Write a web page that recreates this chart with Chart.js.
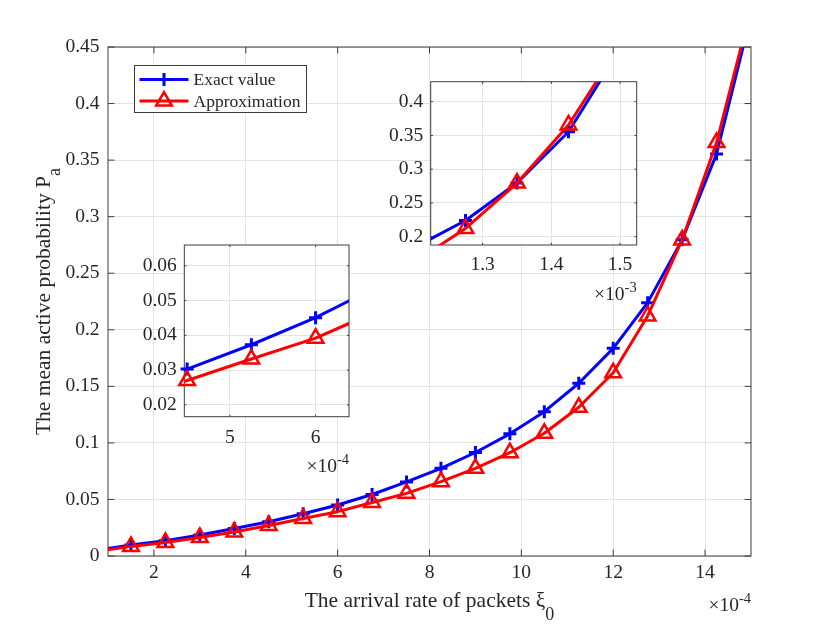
<!DOCTYPE html>
<html>
<head>
<meta charset="utf-8">
<script src="https://cdn.jsdelivr.net/npm/chart.js@4.4.1/dist/chart.umd.min.js"></script>
<style>
  html, body { margin: 0; padding: 0; background: #fff; }
  #wrap { position: relative; width: 830px; height: 624px; }
  canvas { position: absolute; }
</style>
</head>
<body>
<div id="wrap">
  <canvas id="main" width="830" height="624" style="left:0;top:0"></canvas>
  <canvas id="insetLow" width="240" height="260" style="left:130px;top:220px"></canvas>
  <canvas id="insetHigh" width="290" height="260" style="left:370px;top:55px"></canvas>
</div>
<script>
// arrival rate of packets (x 10^-4)
const arrivalRate = [0.75, 1.5, 2.25, 3, 3.75, 4.5, 5.25, 6, 6.75, 7.5, 8.25, 9, 9.75, 10.5, 11.25, 12, 12.75, 13.5, 14.25, 15];
const exactValue = [0.005, 0.0097, 0.0135, 0.0185, 0.0243, 0.0303, 0.0373, 0.0451, 0.0544, 0.0655, 0.0775, 0.0915, 0.108, 0.1276, 0.1527, 0.1836, 0.224, 0.2795, 0.3555, 0.478];
const approximation = [0.004, 0.0085, 0.012, 0.0163, 0.0212, 0.027, 0.0332, 0.0392, 0.0473, 0.0554, 0.0657, 0.0775, 0.0913, 0.1085, 0.1315, 0.162, 0.2122, 0.2794, 0.3655, 0.484];

const mainXTicks = [2, 4, 6, 8, 10, 12, 14];
const mainYTicks = [0, 0.05, 0.1, 0.15, 0.2, 0.25, 0.3, 0.35, 0.4, 0.45];
const lowXTicks = [5, 6];
const lowYTicks = [0.02, 0.03, 0.04, 0.05, 0.06];
const highXTicks = [13, 14, 15]; // shown as 1.3, 1.4, 1.5 (x 10^-3)
const highYTicks = [0.2, 0.25, 0.3, 0.35, 0.4];

const seriesNames = ["Exact value", "Approximation"];

const BLUE = "#0000ff";
const RED = "#ff0000";
const TEXT = "#262626";
const GRID = "#e3e3e3";
const FRAME = "#3c3c3c";
const SERIF = "'Liberation Serif', 'Times New Roman', serif";

function toPoints(ys) {
  return arrivalRate.map((x, i) => ({ x: x, y: ys[i] }));
}

function fmt(v) {
  return String(parseFloat(v.toFixed(3)));
}

// draw a string made of pieces (for sub/superscripts), baseline at y
function drawPieces(ctx, pieces, x, y, align) {
  let total = 0;
  pieces.forEach((p) => {
    ctx.font = p.size + "px " + SERIF;
    p.w = ctx.measureText(p.t).width;
    total += p.w;
  });
  let cx = align === "center" ? x - total / 2 : align === "right" ? x - total : x;
  ctx.textAlign = "left";
  ctx.textBaseline = "alphabetic";
  pieces.forEach((p) => {
    ctx.font = p.size + "px " + SERIF;
    ctx.fillText(p.t, cx, y + (p.dy || 0));
    cx += p.w;
  });
}

function drawMarker(ctx, style, x, y, color) {
  ctx.save();
  ctx.strokeStyle = color;
  ctx.beginPath();
  if (style === "cross") {
    ctx.lineWidth = 3;
    ctx.moveTo(x - 6.5, y); ctx.lineTo(x + 6.5, y);
    ctx.moveTo(x, y - 6.5); ctx.lineTo(x, y + 6.5);
  } else {
    ctx.lineWidth = 2.5;
    const r = 9;
    for (let k = 0; k < 3; k++) {
      const a = k * 2 * Math.PI / 3;
      const px = x + Math.sin(a) * r, py = y - Math.cos(a) * r;
      if (k === 0) ctx.moveTo(px, py); else ctx.lineTo(px, py);
    }
    ctx.closePath();
  }
  ctx.stroke();
  ctx.restore();
}

function makeDatasets(xr, yr) {
  const inside = (c) => {
    const p = c.raw;
    return p && p.x >= xr[0] && p.x <= xr[1] && p.y >= yr[0] && p.y <= yr[1];
  };
  return [
    { label: seriesNames[0], data: toPoints(exactValue), borderColor: BLUE, borderWidth: 3,
      pointRadius: 0, clip: 0, order: 4, borderJoinStyle: "round" },
    { label: seriesNames[0], data: toPoints(exactValue), showLine: false, pointStyle: "cross",
      pointRadius: (c) => (inside(c) ? 6.5 : 0), pointBorderWidth: 3, pointBorderColor: BLUE,
      clip: 14, order: 3 },
    { label: seriesNames[1], data: toPoints(approximation), borderColor: RED, borderWidth: 3,
      pointRadius: 0, clip: 0, order: 2, borderJoinStyle: "round" },
    { label: seriesNames[1], data: toPoints(approximation), showLine: false, pointStyle: "triangle",
      pointRadius: (c) => (inside(c) ? 9 : 0), pointBorderWidth: 2.5, pointBorderColor: RED,
      pointBackgroundColor: "rgba(0,0,0,0)", clip: 14, order: 1 }
  ];
}

function makeAxes(cfg) {
  const font = { family: SERIF, size: 19.5 };
  return {
    x: {
      type: "linear", min: cfg.xr[0], max: cfg.xr[1],
      afterBuildTicks: (s) => { s.ticks = cfg.xTicks.map((v) => ({ value: v })); },
      afterFit: (s) => { s.height = cfg.xHeight; },
      grid: { color: GRID, lineWidth: 1, drawTicks: false },
      border: { display: false },
      ticks: { font: font, color: TEXT, padding: cfg.xPad, maxRotation: 0, autoSkip: false,
        callback: cfg.xLabel || ((v) => fmt(v)) }
    },
    y: {
      type: "linear", min: cfg.yr[0], max: cfg.yr[1],
      afterBuildTicks: (s) => { s.ticks = cfg.yTicks.map((v) => ({ value: v })); },
      afterFit: (s) => { s.width = cfg.yWidth; },
      grid: { color: GRID, lineWidth: 1, drawTicks: false },
      border: { display: false },
      ticks: { font: font, color: TEXT, padding: cfg.yPad, autoSkip: false,
        callback: (v) => fmt(v) }
    }
  };
}

// white plot background, box with inward ticks, power-of-ten note
function axesPlugin(cfg) {
  return {
    id: "matlabAxes",
    beforeDraw(chart) {
      const a = chart.chartArea;
      chart.ctx.save();
      chart.ctx.fillStyle = "#fff";
      chart.ctx.fillRect(a.left, a.top, a.right - a.left, a.bottom - a.top);
      chart.ctx.restore();
    },
    beforeDatasetsDraw(chart) {
      const { ctx, chartArea: a, scales } = chart;
      const tl = cfg.tickLen;
      ctx.save();
      ctx.strokeStyle = FRAME;
      ctx.lineWidth = 1;
      ctx.beginPath();
      scales.x.ticks.forEach((t) => {
        const px = scales.x.getPixelForValue(t.value);
        ctx.moveTo(px, a.bottom); ctx.lineTo(px, a.bottom - tl);
        ctx.moveTo(px, a.top); ctx.lineTo(px, a.top + tl);
      });
      scales.y.ticks.forEach((t) => {
        const py = scales.y.getPixelForValue(t.value);
        ctx.moveTo(a.left, py); ctx.lineTo(a.left + tl, py);
        ctx.moveTo(a.right, py); ctx.lineTo(a.right - tl, py);
      });
      ctx.stroke();
      ctx.strokeRect(a.left, a.top, a.right - a.left, a.bottom - a.top);
      ctx.restore();
    },
    afterDraw(chart) {
      const { ctx, chartArea: a } = chart;
      ctx.save();
      ctx.fillStyle = TEXT;
      drawPieces(ctx, [{ t: "\u00d710", size: 19.5 }, { t: cfg.power, size: 14.5, dy: -8 }],
        a.right, a.bottom + 55, "right");
      ctx.restore();
      if (cfg.extra) cfg.extra(chart);
    }
  };
}

function mainExtras(chart) {
  const { ctx, chartArea: a } = chart;
  ctx.save();
  ctx.fillStyle = TEXT;
  // x title
  drawPieces(ctx, [
    { t: "The arrival rate of packets \u03be", size: 21.5 },
    { t: "0", size: 18, dy: 13 }
  ], (a.left + a.right) / 2, 606.5, "center");
  // y title
  ctx.save();
  ctx.translate(50, (a.top + a.bottom) / 2);
  ctx.rotate(-Math.PI / 2);
  drawPieces(ctx, [
    { t: "The mean active probability P", size: 21.5 },
    { t: "a", size: 18, dy: 10 }
  ], 0, 0, "center");
  ctx.restore();

  // legend
  const lx = a.left + 26.5, ly = a.top + 18.5, lw = 172, lh = 47;
  ctx.fillStyle = "#fff";
  ctx.fillRect(lx, ly, lw, lh);
  ctx.strokeStyle = FRAME;
  ctx.lineWidth = 1;
  ctx.strokeRect(lx, ly, lw, lh);
  const rows = [
    { color: BLUE, style: "cross", y: ly + 14 },
    { color: RED, style: "triangle", y: ly + 35.5 }
  ];
  rows.forEach((r, i) => {
    ctx.strokeStyle = r.color;
    ctx.lineWidth = 3;
    ctx.beginPath();
    ctx.moveTo(lx + 5, r.y);
    ctx.lineTo(lx + 54, r.y);
    ctx.stroke();
    drawMarker(ctx, r.style, lx + 29.5, r.y, r.color);
    ctx.fillStyle = TEXT;
    ctx.font = "17.5px " + SERIF;
    ctx.textAlign = "left";
    ctx.textBaseline = "middle";
    ctx.fillText(seriesNames[i], lx + 59, r.y + 1);
  });
  ctx.restore();
}

function build(id, cfg) {
  new Chart(document.getElementById(id), {
    type: "line",
    data: { datasets: makeDatasets(cfg.xr, cfg.yr) },
    options: {
      responsive: false,
      animation: false,
      events: [],
      layout: { padding: cfg.padding },
      scales: makeAxes(cfg),
      plugins: { legend: { display: false }, tooltip: { enabled: false } }
    },
    plugins: [axesPlugin(cfg)]
  });
}

build("main", {
  xr: [1, 15], yr: [0, 0.45], xTicks: mainXTicks, yTicks: mainYTicks,
  xHeight: 68, yWidth: 108, xPad: 5, yPad: 8.5,
  padding: { top: 47, right: 79, left: 0, bottom: 0 },
  tickLen: 6.4, power: "-4", extra: mainExtras
});

build("insetLow", {
  xr: [4.467, 6.39], yr: [0.0166, 0.066], xTicks: lowXTicks, yTicks: lowYTicks,
  xHeight: 63.3, yWidth: 54.3, xPad: 9.5, yPad: 7.5,
  padding: { top: 25, right: 21, left: 0, bottom: 0 },
  tickLen: 2, power: "-4"
});

build("insetHigh", {
  xr: [12.243, 15.243], yr: [0.1877, 0.4296], xTicks: highXTicks, yTicks: highYTicks,
  xLabel: (v) => String(parseFloat((v / 10).toFixed(2))),
  xHeight: 70, yWidth: 60.7, xPad: 8, yPad: 7.5,
  padding: { top: 26.7, right: 23.3, left: 0, bottom: 0 },
  tickLen: 2.2, power: "-3"
});
</script>
</body>
</html>
